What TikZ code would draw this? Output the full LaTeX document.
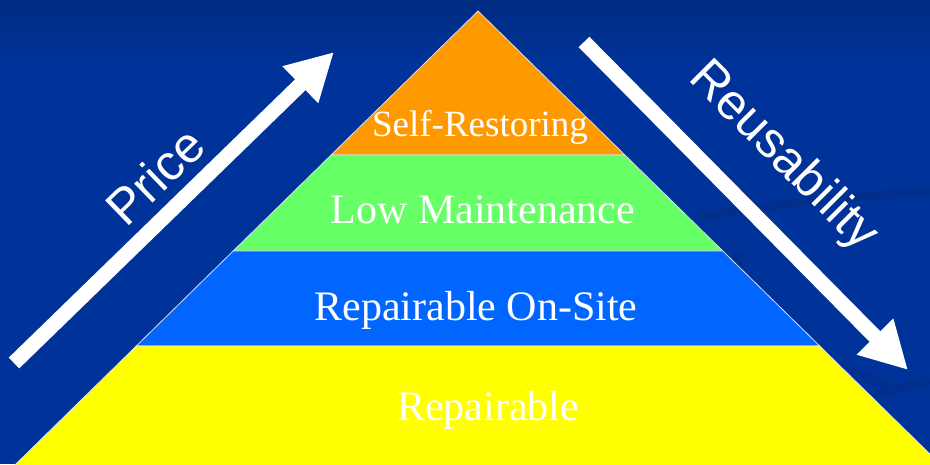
\documentclass[tikz,border=0pt]{standalone}
\usepackage{fontspec}
\setmainfont{Liberation Serif}
\setsansfont{Liberation Sans}
\usetikzlibrary{arrows.meta}
\definecolor{bgblue}{HTML}{003399}
\definecolor{topblue}{HTML}{002B82}
\definecolor{tierA}{HTML}{FF9900}
\definecolor{tierB}{HTML}{66FF66}
\definecolor{tierC}{HTML}{0066FF}
\definecolor{tierD}{HTML}{FFFF00}
\tikzset{
    tierlabel/.style={text=white, font=\fontsize{42}{50}\selectfont, anchor=base},
    sidelabel/.style={text=white, font=\sffamily\fontsize{50}{60}\selectfont},
    bigarrow/.style={white, line width=15pt, -{Triangle[length=47pt,width=48pt]}},
}

\begin{document}
\begin{tikzpicture}[x=1pt,y=1pt]
        \useasboundingbox (0,0) rectangle (930,464);
        \fill[bgblue] (0,0) rectangle (930,464);
        \shade[top color=topblue, bottom color=bgblue] (0,400) rectangle (930,464);
        % faint swooshes in the background
        \begin{scope}[black, opacity=.07, line width=9pt]
            \draw (700,247) .. controls (780,262) and (860,268) .. (930,272);
            \draw (740,214) .. controls (720,164) and (800,104) .. (890,79);
            \draw (840,60) .. controls (880,70) .. (930,84);
        \end{scope}
        % the pyramid, one band per tier
        \begin{scope}
            \clip (0,0) rectangle (930,464);
            \foreach \col/\ya/\yb in {tierA/453/309, tierB/309/213, tierC/213/118, tierD/118/-2} {
                \filldraw[fill=\col, draw=white!85!bgblue, line width=.8pt]
                    ({478-1.02*(453-\ya)}, \ya) -- ({478+1.02*(453-\ya)}, \ya)
                    -- ({478+1.02*(453-\yb)}, \yb) -- ({478-1.02*(453-\yb)}, \yb) -- cycle;
            }
        \end{scope}
        \node[tierlabel, font=\fontsize{37}{44}\selectfont] (selfrest) at (480,327) {Self-Restoring};
        \node[tierlabel] (lowmaint) at (483,240) {Low Maintenance};
        \node[tierlabel] (onsite) at (476,143) {Repairable On-Site};
        \node[tierlabel] (repair) at (488,44) {Repairable};
        % the two arrows
        \coordinate (pricelow) at (14,101);
        \coordinate (pricehigh) at (334,412);
        \draw[bigarrow] (pricelow) -- (pricehigh);
        \coordinate (reusehigh) at (584,422);
        \coordinate (reuselow) at (908,94);
        \draw[bigarrow] (reusehigh) -- (reuselow);
        \node[sidelabel, rotate=44] (price) at (155,288) {Price};
        \node[sidelabel, rotate=-45] (reuse) at (783,307) {Reusability};
    \end{tikzpicture}
\end{document}
